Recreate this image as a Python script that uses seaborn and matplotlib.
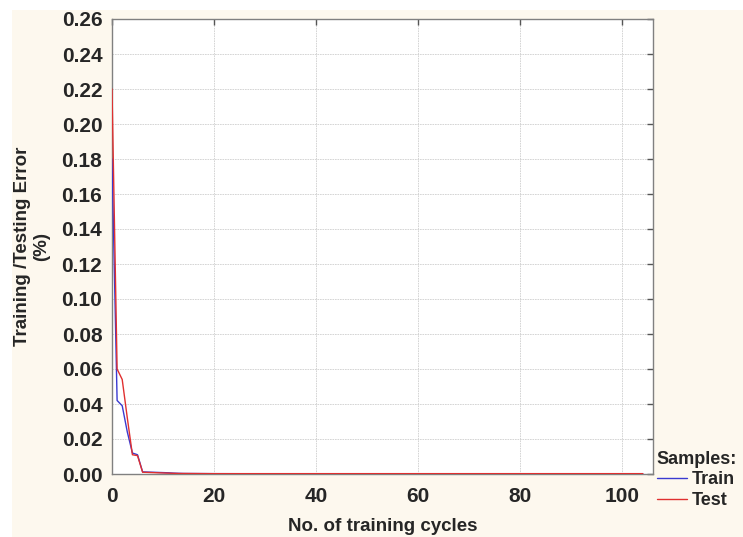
import seaborn as sns
import matplotlib.pyplot as plt
import pandas as pd
from matplotlib.patches import Rectangle

# values
cycles = [0, 1, 2, 3, 4, 5, 6, 7, 8, 9, 10, 11, 12, 13, 14, 20, 40, 60, 80, 104]
train_err = [0.180, 0.042, 0.039, 0.024, 0.012, 0.011, 0.0012, 0.0011, 0.0010, 0.0009,
             0.0008, 0.0007, 0.0005, 0.0004, 0.0003, 0.0002, 0.0001, 0.0001, 0.0001, 0.0001]
test_err = [0.220, 0.060, 0.054, 0.032, 0.011, 0.0105, 0.0010, 0.0009, 0.0008, 0.0007,
            0.0006, 0.0005, 0.0004, 0.0003, 0.0003, 0.0002, 0.0002, 0.0002, 0.0002, 0.0002]
y_ticks = [0.00, 0.02, 0.04, 0.06, 0.08, 0.10, 0.12, 0.14, 0.16, 0.18, 0.20, 0.22, 0.24, 0.26]
x_ticks = [0, 20, 40, 60, 80, 100]

df = pd.DataFrame({
    'cycle': cycles + cycles,
    'error': train_err + test_err,
    'Samples:': ['Train'] * len(cycles) + ['Test'] * len(cycles),
})

sns.set_style('white')
plt.rcParams['font.family'] = ['Liberation Sans', 'DejaVu Sans']
plt.rcParams['font.weight'] = 'bold'

cream = '#fdf8ee'
fig = plt.figure(figsize=(7.43, 5.37), dpi=100, facecolor='white')
# cream panel, leaving a thin white strip at the top and on the left
bg = Rectangle((12 / 743, 0), 1, 1 - 10 / 537, transform=fig.transFigure,
               facecolor=cream, edgecolor='none', zorder=-10)
fig.add_artist(bg)
ax = fig.add_axes([112 / 743, 1 - 474 / 537, 541 / 743, 455 / 537])
ax.set_facecolor('white')

sns.lineplot(data=df, x='cycle', y='error', hue='Samples:',
             palette={'Train': '#3a3ad0', 'Test': '#e03030'},
             linewidth=1.0, ax=ax, zorder=3)

ax.set_xlim(0, 106)
ax.set_ylim(0, 0.26)
ax.set_xticks(x_ticks)
ax.set_yticks(y_ticks)
ax.set_yticklabels([f'{v:.2f}' for v in y_ticks])
ax.grid(True, color='#cfcfcf', linestyle=(0, (2, 1)), linewidth=0.6)
ax.tick_params(axis='both', direction='in', length=4, width=1, color='#555555',
               labelsize=15, top=True, right=True)
ax.tick_params(axis='x', pad=9)
ax.tick_params(axis='y', pad=7)
for lab in ax.get_xticklabels() + ax.get_yticklabels():
    lab.set_fontweight('bold')
for sp in ax.spines.values():
    sp.set_color('#808080')
    sp.set_linewidth(1.0)

ax.set_xlabel('No. of training cycles', fontsize=13.5, fontweight='bold', labelpad=9)
ax.set_ylabel('Training /Testing Error\n(%)', fontsize=13.5, fontweight='bold', labelpad=8)

leg = ax.legend(title='Samples:', loc='lower left', bbox_to_anchor=(1.0, -0.085),
                frameon=False, fontsize=13, title_fontsize=13, handlelength=1.7,
                handletextpad=0.25, borderpad=0.2, borderaxespad=0, labelspacing=0.2)
leg.get_title().set_fontweight('bold')
leg._legend_box.align = 'left'
for t in leg.get_texts():
    t.set_fontweight('bold')

fig.savefig('out.png', dpi=100, facecolor=fig.get_facecolor())
